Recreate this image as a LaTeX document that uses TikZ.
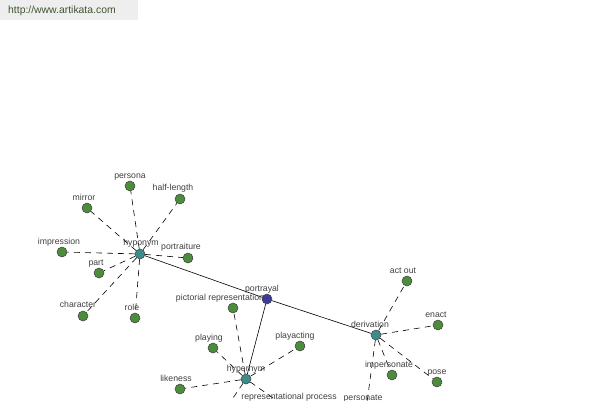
\documentclass[tikz,border=0pt]{standalone}
\usepackage{fontspec}
\setmainfont{Liberation Sans}
\usetikzlibrary{backgrounds}
\definecolor{leafgreen}{HTML}{4C8C3C}
\definecolor{hubteal}{HTML}{3C8C8C}
\definecolor{rootblue}{HTML}{3C3C96}
\definecolor{txtgray}{HTML}{404040}
\definecolor{wmgray}{HTML}{EEEEEE}
\definecolor{wmtext}{HTML}{3E5530}
\tikzset{
  leaf/.style={circle, draw=black!75, line width=0.5pt, fill=leafgreen, minimum size=10pt, inner sep=0pt},
  hub/.style={leaf, fill=hubteal},
  root/.style={leaf, fill=rootblue},
  lbl/.style={font=\fontsize{8.7}{10}\selectfont, text=txtgray, inner sep=0pt, anchor=base},
  rel/.style={draw=black, line width=0.6pt},
  dep/.style={draw=black, line width=0.6pt, dash pattern=on 6pt off 5pt}
}
\begin{document}
\begin{tikzpicture}[x=1pt, y=-1pt]
\useasboundingbox (0,0) rectangle (600,400);
\clip (0,0) rectangle (600,400);

% hubs
\node[hub] (hypo) at (140,254) {};
\node[root] (port) at (267,299) {};
\node[hub] (deriv) at (376,335) {};
\node[hub] (hyper) at (246,379) {};

% hyponym children
\node[leaf] (persona) at (130,186) {};
\node[leaf] (half) at (180,199) {};
\node[leaf] (mirror) at (87,208) {};
\node[leaf] (impr) at (62,252) {};
\node[leaf] (portr) at (188,258) {};
\node[leaf] (part) at (99,273) {};
\node[leaf] (char) at (83,316) {};
\node[leaf] (role) at (135,318) {};

% hypernym children
\node[leaf] (pict) at (233,308) {};
\node[leaf] (playing) at (213,348) {};
\node[leaf] (playact) at (300,346) {};
\node[leaf] (like) at (180,389) {};
\node[leaf] (repr) at (290,410) {};
\node[leaf] (hidden) at (222,414) {};

% derivation children
\node[leaf] (actout) at (407,281) {};
\node[leaf] (enact) at (438,325) {};
\node[leaf] (imper) at (392,375) {};
\node[leaf] (pose) at (437,382) {};
\node[leaf] (person) at (366,410) {};

% edges behind nodes
\begin{pgfonlayer}{background}
\fill[white] (0,0) rectangle (600,400);
\path[rel] (hypo) -- (port);
\path[rel] (port) -- (deriv);
\path[rel] (port) -- (hyper);
\foreach \c in {persona,half,mirror,impr,portr,part,char,role}
  \path[dep] (hypo) -- (\c);
\foreach \c in {pict,playing,playact,like,repr,hidden}
  \path[dep] (hyper) -- (\c);
\foreach \c in {actout,enact,imper,pose,person}
  \path[dep] (deriv) -- (\c);
\end{pgfonlayer}

% watermark
\node[fill=wmgray, minimum width=138pt, minimum height=20pt, inner sep=0pt, anchor=north west] (wm) at (0,0) {};
\node[font=\fontsize{10.4}{12}\selectfont, text=wmtext, anchor=west, inner sep=0pt] (wmt) at (8,11) {http://www.artikata.com};

% labels
\node[lbl] (l-hypo) at (141,245) {hyponym};
\node[lbl] (l-port) at (262,291) {portrayal};
\node[lbl] (l-deriv) at (370,327) {derivation};
\node[lbl] (l-hyper) at (246,371) {hypernym};
\node[lbl] (l-persona) at (130,178) {persona};
\node[lbl] (l-half) at (173,190) {half-length};
\node[lbl] (l-mirror) at (84,200) {mirror};
\node[lbl] (l-impr) at (59,244) {impression};
\node[lbl] (l-portr) at (181,249) {portraiture};
\node[lbl] (l-part) at (96,265) {part};
\node[lbl] (l-char) at (78,307) {character};
\node[lbl] (l-role) at (132,310) {role};
\node[lbl] (l-pict) at (220,300) {pictorial representation};
\node[lbl] (l-playing) at (209,340) {playing};
\node[lbl] (l-playact) at (295,338) {playacting};
\node[lbl] (l-like) at (176,381) {likeness};
\node[lbl] (l-repr) at (289,399) {representational process};
\node[lbl] (l-actout) at (403,273) {act out};
\node[lbl] (l-enact) at (436,317) {enact};
\node[lbl] (l-imper) at (389,367) {impersonate};
\node[lbl] (l-pose) at (437,374) {pose};
\node[lbl] (l-person) at (363,400) {personate};
\end{tikzpicture}
\end{document}
